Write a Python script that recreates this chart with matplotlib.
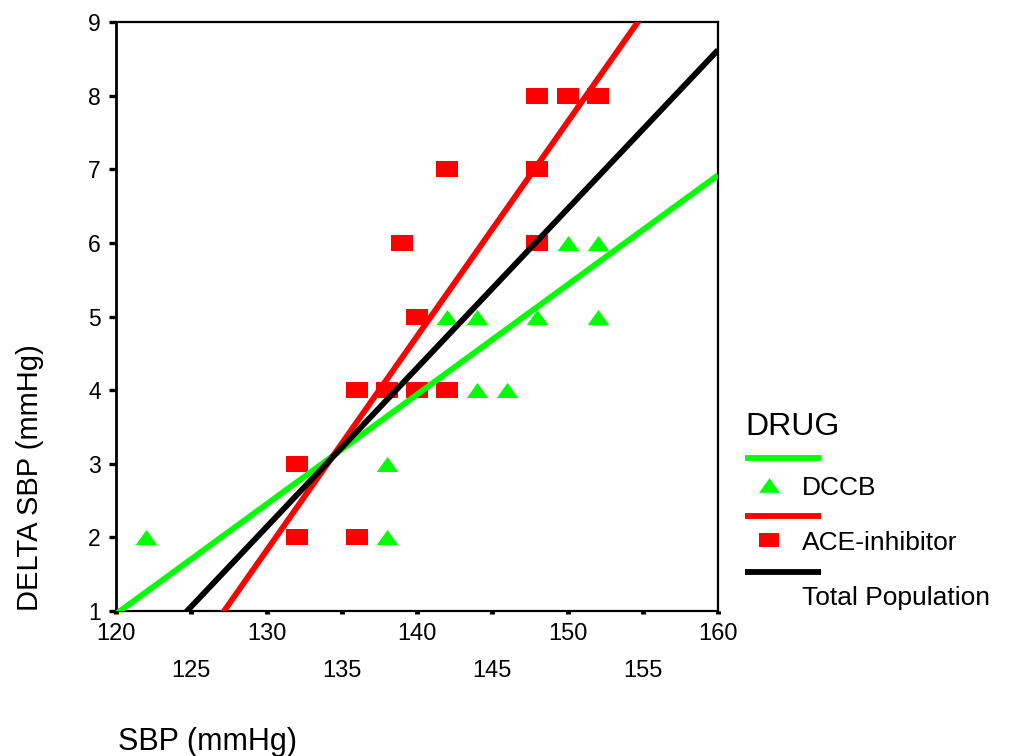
import matplotlib
matplotlib.use('Agg')
import matplotlib.pyplot as plt
import numpy as np
from matplotlib.lines import Line2D
from matplotlib.ticker import FixedLocator, FixedFormatter

plt.rcParams['font.family'] = ['Liberation Sans', 'DejaVu Sans']

# ---- data ----
dccb_sbp = [122, 132, 138, 138, 140, 142, 142, 144, 144, 146, 148, 148, 150, 152, 152]
dccb_delta = [2, 2, 2, 3, 5, 4, 5, 4, 5, 4, 5, 6, 6, 5, 6]
ace_sbp = [132, 136, 132, 136, 138, 140, 142, 140, 139, 148, 142, 148, 148, 150, 152]
ace_delta = [2, 2, 3, 4, 4, 4, 4, 5, 6, 6, 7, 7, 8, 8, 8]

fit_names = ['DCCB', 'ACE-inhibitor', 'Total Population']
fit_slope = [0.149, 0.291, 0.216]
fit_at_140 = [3.94, 4.73, 4.30]
fit_colors = ['#00ff00', '#ff0000', '#000000']

x_major = [120, 130, 140, 150, 160]
x_minor = [125, 135, 145, 155]
y_ticks = [1, 2, 3, 4, 5, 6, 7, 8, 9]

GREEN = '#00ff00'
RED = '#ff0000'

tri = [(-1, -0.7), (1, -0.7), (0, 0.7), (-1, -0.7)]
sq = [(-1, -0.7), (1, -0.7), (1, 0.7), (-1, 0.7), (-1, -0.7)]

W, H = 1020, 756
fig = plt.figure(figsize=(W / 100, H / 100), dpi=100)
ax = fig.add_axes([116 / W, 1 - 611 / H, (718 - 116) / W, (611 - 22) / H])

ax.plot(dccb_sbp, dccb_delta, linestyle='none', marker=tri, markersize=15.5,
        color=GREEN, markeredgewidth=0, zorder=2)
ax.plot(ace_sbp, ace_delta, linestyle='none', marker=sq, markersize=15.5,
        color=RED, markeredgewidth=0, zorder=3)

xs = np.array([x_major[0], x_major[-1]], dtype=float)
for s, c, col in zip(fit_slope, fit_at_140, fit_colors):
    ax.plot(xs, c + s * (xs - 140), color=col, linewidth=4.2,
            solid_capstyle='butt', zorder=4)

ax.set_xlim(120, 160)
ax.set_ylim(1, 9)

for sp in ax.spines.values():
    sp.set_linewidth(1.6)
ax.spines['left'].set_linewidth(2.0)

ax.yaxis.set_major_locator(FixedLocator(y_ticks))
ax.set_yticklabels([str(v) for v in y_ticks])
ax.xaxis.set_major_locator(FixedLocator(x_major))
ax.xaxis.set_major_formatter(FixedFormatter([str(v) for v in x_major]))
ax.xaxis.set_minor_locator(FixedLocator(x_minor))
ax.xaxis.set_minor_formatter(FixedFormatter([str(v) for v in x_minor]))

ax.tick_params(axis='y', direction='out', length=5, width=2.4, labelsize=16.5, pad=6)
ax.tick_params(axis='x', which='both', direction='out', length=2.5, width=3.6, labelsize=17)
ax.tick_params(axis='x', which='major', pad=6.5)
ax.tick_params(axis='x', which='minor', pad=33)

# axis titles
fig.text(118 / W, 1 - 742 / H, 'SBP (mmHg)', fontsize=22, ha='left', va='center')
fig.text(30 / W, 1 - 478 / H, 'DELTA SBP (mmHg)', fontsize=21, rotation=90,
         ha='center', va='center')

# legend (manual, SPSS style)
fig.text(745 / W, 1 - 435 / H, 'DRUG', fontsize=23, ha='left', va='baseline')
leg_line_y = [458, 516, 572]
leg_text_y = [495, 550, 605]
leg_markers = [(tri, GREEN), (sq, RED), (None, None)]
for name, col, ly, ty, (mk, mc) in zip(fit_names, fit_colors, leg_line_y, leg_text_y, leg_markers):
    fig.add_artist(Line2D([745 / W, 821 / W], [1 - ly / H, 1 - ly / H], color=col,
                          linewidth=4.2, solid_capstyle='butt', transform=fig.transFigure))
    if mk is not None:
        fig.add_artist(Line2D([769 / W], [1 - (ty - 10) / H], marker=mk, markersize=15,
                              color=mc, markeredgewidth=0, linestyle='none',
                              transform=fig.transFigure))
    fig.text(802 / W, 1 - ty / H, name, fontsize=19, ha='left', va='baseline')

fig.savefig('out.png', dpi=100)
